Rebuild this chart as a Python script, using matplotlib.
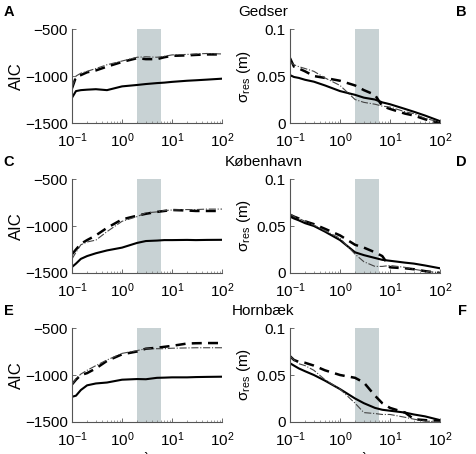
import matplotlib.pyplot as plt
import numpy as np

plt.rcParams['font.family'] = ['Liberation Sans', 'DejaVu Sans']
plt.rcParams['mathtext.fontset'] = 'custom'
plt.rcParams['mathtext.rm'] = 'Liberation Sans'
plt.rcParams['mathtext.it'] = 'Liberation Sans:italic'

stations = ['Gedser', 'København', 'Hornbæk']
letters = [('A', 'B'), ('C', 'D'), ('E', 'F')]
shade = (2, 6)

# lambda grid and read-off values (solid, dashed, dash-dot)
lam = [0.1, 0.12, 0.15, 0.2, 0.3, 0.5, 1, 2, 3, 5, 7, 10, 20, 30, 50, 100]

aic = {
    'Gedser': (
        [-1230, -1160, -1150, -1145, -1140, -1150, -1110, -1095, -1085, -1075, -1070, -1062, -1050, -1045, -1038, -1028],
        [-1130, -1010, -990, -960, -940, -900, -850, -810, -820, -820, -800, -785, -780, -775, -770, -770],
        [-1120, -1000, -970, -950, -920, -880, -840, -800, -795, -800, -790, -775, -770, -765, -760, -765],
    ),
    'København': (
        [-1436, -1400, -1350, -1320, -1290, -1260, -1230, -1180, -1160, -1155, -1150, -1150, -1148, -1150, -1148, -1147],
        [-1300, -1250, -1190, -1150, -1100, -1020, -930, -890, -870, -850, -840, -830, -835, -840, -840, -840],
        [-1350, -1280, -1200, -1170, -1150, -1060, -950, -900, -860, -850, -835, -830, -825, -825, -820, -820],
    ),
    'Hornbæk': (
        [-1232, -1220, -1160, -1110, -1090, -1080, -1050, -1043, -1045, -1030, -1028, -1025, -1025, -1022, -1020, -1018],
        [-1100, -1050, -1000, -980, -930, -850, -780, -750, -720, -710, -700, -690, -665, -662, -660, -660],
        [-1100, -1040, -990, -950, -900, -840, -770, -740, -720, -720, -720, -715, -712, -710, -710, -710],
    ),
}

sig = {
    'Gedser': (
        [0.051, 0.049, 0.048, 0.046, 0.044, 0.040, 0.034, 0.030, 0.027, 0.025, 0.022, 0.020, 0.015, 0.012, 0.008, 0.002],
        [0.069, 0.060, 0.058, 0.055, 0.050, 0.048, 0.045, 0.040, 0.035, 0.030, 0.018, 0.015, 0.010, 0.008, 0.004, 0.000],
        [0.065, 0.062, 0.060, 0.058, 0.055, 0.048, 0.040, 0.025, 0.022, 0.020, 0.018, 0.017, 0.012, 0.010, 0.005, 0.001],
    ),
    'København': (
        [0.060, 0.058, 0.056, 0.053, 0.050, 0.044, 0.035, 0.022, 0.019, 0.016, 0.014, 0.013, 0.011, 0.010, 0.008, 0.005],
        [0.062, 0.060, 0.058, 0.055, 0.052, 0.047, 0.040, 0.030, 0.027, 0.022, 0.018, 0.006, 0.005, 0.004, 0.002, 0.000],
        [0.063, 0.060, 0.058, 0.055, 0.051, 0.045, 0.037, 0.020, 0.012, 0.007, 0.007, 0.008, 0.006, 0.004, 0.002, 0.000],
    ),
    'Hornbæk': (
        [0.0625, 0.060, 0.057, 0.054, 0.050, 0.044, 0.035, 0.025, 0.020, 0.015, 0.013, 0.012, 0.010, 0.008, 0.006, 0.002],
        [0.070, 0.066, 0.064, 0.063, 0.060, 0.055, 0.050, 0.047, 0.042, 0.028, 0.020, 0.015, 0.010, 0.003, 0.002, 0.001],
        [0.070, 0.066, 0.062, 0.060, 0.055, 0.045, 0.035, 0.020, 0.010, 0.009, 0.008, 0.008, 0.005, 0.003, 0.001, 0.000],
    ),
}

styles = [dict(ls='-', lw=1.5, color='black'),
          dict(ls=(0, (4, 2.5)), lw=1.8, color='black'),
          dict(ls='-.', lw=0.8, color='#444444')]

fig = plt.figure(figsize=(4.77, 4.54), dpi=100)

lefts = [0.151, 0.608]
bottoms = [0.729, 0.3987, 0.0705]
w, h = 0.3145, 0.207


def style_axes(ax):
    ax.set_xscale('log')
    ax.set_xlim(0.1, 100)
    ax.set_xticks([0.1, 1, 10, 100])
    ax.set_xticklabels([r'$\mathregular{10^{-1}}$', r'$\mathregular{10^{0}}$',
                        r'$\mathregular{10^{1}}$', r'$\mathregular{10^{2}}$'])
    for s in ['top', 'right']:
        ax.spines[s].set_visible(False)
    for s in ['left', 'bottom']:
        ax.spines[s].set_color('#555555')
        ax.spines[s].set_linewidth(0.8)
    ax.tick_params(direction='in', length=3, width=0.6, labelsize=11, color='#555555')
    ax.tick_params(axis='x', pad=6)
    ax.tick_params(axis='y', pad=3)
    ax.tick_params(which='minor', direction='in', length=1.5, width=0.5, color='#777777')
    ax.axvspan(*shade, color='#c8d2d4', lw=0, zorder=0)


for i, st in enumerate(stations):
    axl = fig.add_axes([lefts[0], bottoms[i], w, h])
    axr = fig.add_axes([lefts[1], bottoms[i], w, h])
    for y, s in zip(aic[st], styles):
        axl.plot(lam, y, **s)
    for y, s in zip(sig[st], styles):
        axr.plot(lam, y, **s)
    style_axes(axl)
    style_axes(axr)
    axl.set_ylim(-1500, -500)
    axl.set_yticks([-1500, -1000, -500])
    axl.set_yticklabels(['\u22121500', '\u22121000', '\u2212500'])
    axl.set_ylabel('AIC', fontsize=12, labelpad=1)
    axr.set_ylim(0, 0.1)
    axr.set_yticks([0, 0.05, 0.1])
    axr.set_yticklabels(['0', '0.05', '0.1'])
    axr.set_ylabel(r'$\mathregular{\sigma_{res}}$ (m)', fontsize=11, labelpad=2)
    top = bottoms[i] + h
    fig.text(0.552, top + 0.037, st, ha='center', va='center', fontsize=11)
    fig.text(0.008, top + 0.037, letters[i][0], ha='left', va='center', fontsize=10.5, fontweight='bold')
    fig.text(0.978, top + 0.037, letters[i][1], ha='right', va='center', fontsize=10.5, fontweight='bold')
    if i == 2:
        axl.set_xlabel('λ', fontsize=9, labelpad=2)
        axr.set_xlabel('λ', fontsize=9, labelpad=2)

fig.savefig('out.png', dpi=100)
